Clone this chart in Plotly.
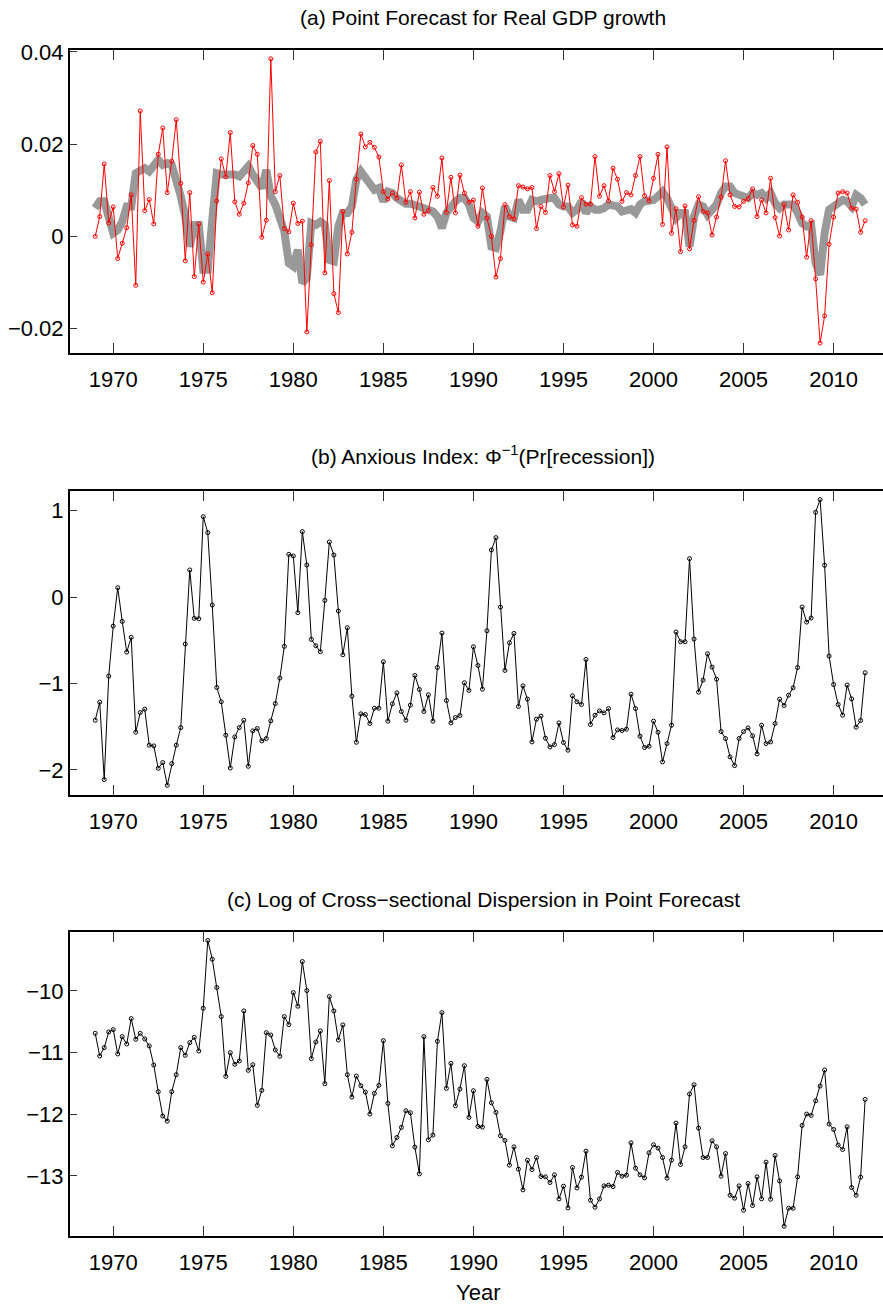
"""
Survey of Professional Forecasters: point forecast, anxious index and dispersion.
"""
import plotly.graph_objects as go
from plotly.subplots import make_subplots

# quarterly observations, 1969Q1 .. 2011Q4 (two years per row)
quarters = [1969 + q / 4 for q in range(172)]

gdp_point_forecast = [
    0.0000, 0.0043, 0.0157, 0.0029, 0.0064, -0.0048, -0.0015, 0.0019,
    0.0090, -0.0106, 0.0272, 0.0056, 0.0080, 0.0027, 0.0178, 0.0235,
    0.0095, 0.0163, 0.0253, 0.0115, -0.0053, 0.0095, -0.0087, 0.0027,
    -0.0099, -0.0038, -0.0122, 0.0077, 0.0168, 0.0129, 0.0225, 0.0075,
    0.0048, 0.0072, 0.0116, 0.0197, 0.0178, -0.0002, 0.0035, 0.0385,
    0.0097, 0.0132, 0.0017, 0.0010, 0.0072, 0.0028, 0.0033, -0.0207,
    -0.0018, 0.0183, 0.0206, -0.0079, 0.0121, -0.0124, -0.0165, 0.0054,
    -0.0038, 0.0009, 0.0124, 0.0222, 0.0194, 0.0204, 0.0193, 0.0172,
    0.0097, 0.0081, 0.0094, 0.0083, 0.0155, 0.0074, 0.0097, 0.0040,
    0.0096, 0.0048, 0.0056, 0.0106, 0.0087, 0.0170, 0.0052, 0.0128,
    0.0051, 0.0133, 0.0094, 0.0074, 0.0079, 0.0022, 0.0105, 0.0040,
    0.0000, -0.0088, -0.0048, 0.0069, 0.0043, 0.0038, 0.0110, 0.0107,
    0.0103, 0.0106, 0.0017, 0.0065, 0.0052, 0.0132, 0.0097, 0.0136,
    0.0064, 0.0111, 0.0025, 0.0022, 0.0084, 0.0070, 0.0070, 0.0173,
    0.0087, 0.0110, 0.0077, 0.0148, 0.0124, 0.0076, 0.0095, 0.0090,
    0.0132, 0.0173, 0.0088, 0.0077, 0.0126, 0.0178, 0.0026, 0.0194,
    0.0007, 0.0060, -0.0033, 0.0066, -0.0027, 0.0035, 0.0086, 0.0054,
    0.0051, 0.0003, 0.0042, 0.0085, 0.0164, 0.0090, 0.0065, 0.0064,
    0.0076, 0.0082, 0.0103, 0.0043, 0.0079, 0.0051, 0.0126, 0.0041,
    0.0001, 0.0069, 0.0014, 0.0090, 0.0074, 0.0042, -0.0045, 0.0034,
    -0.0092, -0.0231, -0.0172, -0.0017, 0.0042, 0.0094, 0.0097, 0.0094,
    0.0061, 0.0059, 0.0009, 0.0034,
]

# thick grey line behind the point forecasts
gdp_actual = [
    0.0061, 0.0076, 0.0076, 0.0043, 0.0007, 0.0014, 0.0032, 0.0065,
    0.0065, 0.0137, 0.0141, 0.0148, 0.0141, 0.0155, 0.0166, 0.0155,
    0.0159, 0.0155, 0.0126, 0.0087, 0.0043, -0.0022, 0.0025, 0.0025,
    -0.0072, -0.0072, 0.0036, 0.0137, 0.0134, 0.0136, 0.0134, 0.0134,
    0.0130, 0.0141, 0.0152, 0.0134, 0.0116, 0.0105, 0.0144, 0.0087,
    0.0069, 0.0043, 0.0011, -0.0058, -0.0065, -0.0029, -0.0101, -0.0090,
    0.0029, 0.0025, 0.0032, 0.0025, -0.0051, -0.0054, 0.0022, 0.0051,
    0.0051, 0.0065, 0.0123, 0.0141, 0.0126, 0.0116, 0.0101, 0.0105,
    0.0076, 0.0097, 0.0094, 0.0083, 0.0076, 0.0071, 0.0071, 0.0066,
    0.0065, 0.0061, 0.0058, 0.0054, 0.0043, 0.0018, 0.0051, 0.0065,
    0.0076, 0.0083, 0.0083, 0.0069, 0.0040, 0.0032, 0.0051, 0.0043,
    -0.0022, -0.0025, 0.0011, 0.0065, 0.0043, 0.0040, 0.0079, 0.0058,
    0.0058, 0.0079, 0.0076, 0.0079, 0.0083, 0.0083, 0.0083, 0.0069,
    0.0065, 0.0065, 0.0051, 0.0058, 0.0076, 0.0051, 0.0065, 0.0058,
    0.0058, 0.0061, 0.0069, 0.0069, 0.0065, 0.0054, 0.0058, 0.0059,
    0.0051, 0.0069, 0.0076, 0.0079, 0.0079, 0.0087, 0.0097, 0.0083,
    0.0058, 0.0040, 0.0051, 0.0051, -0.0022, 0.0043, 0.0069, 0.0065,
    0.0047, 0.0058, 0.0069, 0.0094, 0.0108, 0.0108, 0.0094, 0.0090,
    0.0087, 0.0083, 0.0094, 0.0090, 0.0094, 0.0083, 0.0094, 0.0072,
    0.0061, 0.0069, 0.0069, 0.0069, 0.0051, 0.0029, 0.0022, 0.0025,
    -0.0058, -0.0083, 0.0007, 0.0058, 0.0065, 0.0072, 0.0079, 0.0076,
    0.0065, 0.0090, 0.0083, 0.0069,
]

anxious_index = [
    -1.425, -1.216, -2.112, -0.915, -0.336, 0.108, -0.282, -0.637,
    -0.467, -1.564, -1.336, -1.297, -1.714, -1.722, -1.981, -1.915,
    -2.178, -1.927, -1.714, -1.510, -0.544, 0.313, -0.247, -0.251,
    0.930, 0.745, -0.093, -1.046, -1.212, -1.598, -1.977, -1.618,
    -1.510, -1.425, -1.958, -1.548, -1.521, -1.664, -1.637, -1.432,
    -1.232, -0.938, -0.571, 0.494, 0.475, -0.181, 0.757, 0.371,
    -0.490, -0.564, -0.633, -0.039, 0.637, 0.486, -0.162, -0.668,
    -0.355, -1.147, -1.680, -1.351, -1.359, -1.463, -1.286, -1.286,
    -0.749, -1.436, -1.236, -1.108, -1.324, -1.425, -1.251, -0.907,
    -1.069, -1.324, -1.131, -1.436, -0.815, -0.417, -1.197, -1.456,
    -1.394, -1.371, -0.992, -1.081, -0.575, -0.792, -1.066, -0.390,
    0.544, 0.687, -0.116, -0.849, -0.529, -0.421, -1.266, -1.027,
    -1.181, -1.676, -1.413, -1.378, -1.633, -1.734, -1.707, -1.456,
    -1.683, -1.772, -1.143, -1.212, -1.243, -0.722, -1.475, -1.367,
    -1.317, -1.340, -1.290, -1.625, -1.537, -1.544, -1.529, -1.124,
    -1.290, -1.610, -1.741, -1.726, -1.436, -1.564, -1.907, -1.695,
    -1.483, -0.405, -0.517, -0.517, 0.444, -0.486, -1.100, -0.961,
    -0.656, -0.811, -0.950, -1.556, -1.637, -1.849, -1.950, -1.637,
    -1.556, -1.514, -1.606, -1.815, -1.483, -1.695, -1.676, -1.463,
    -1.181, -1.255, -1.135, -1.050, -0.815, -0.116, -0.290, -0.243,
    0.981, 1.127, 0.367, -0.683, -1.012, -1.243, -1.367, -1.019,
    -1.178, -1.506, -1.429, -0.876,
]

log_dispersion = [
    -10.688, -11.056, -10.920, -10.666, -10.628, -11.023, -10.742, -10.861,
    -10.449, -10.785, -10.688, -10.780, -10.893, -11.202, -11.635, -12.030,
    -12.112, -11.635, -11.359, -10.920, -11.045, -10.839, -10.753, -10.975,
    -10.282, -9.182, -9.486, -9.946, -10.417, -11.386, -11.002, -11.191,
    -11.137, -10.325, -11.289, -11.197, -11.857, -11.613, -10.677, -10.715,
    -10.958, -11.061, -10.417, -10.547, -10.027, -10.249, -9.524, -9.995,
    -11.099, -10.829, -10.650, -11.505, -10.092, -10.325, -10.796, -10.552,
    -11.359, -11.722, -11.381, -11.538, -11.641, -11.998, -11.662, -11.532,
    -10.807, -11.825, -12.512, -12.377, -12.214, -11.944, -11.976, -12.534,
    -12.967, -10.742, -12.415, -12.339, -10.818, -10.352, -11.581, -11.175,
    -11.863, -11.592, -11.213, -12.052, -11.619, -12.198, -12.209, -11.435,
    -11.814, -11.971, -12.350, -12.426, -12.826, -12.529, -12.891, -13.227,
    -12.745, -12.897, -12.702, -13.010, -13.016, -13.108, -12.983, -13.373,
    -13.167, -13.519, -12.864, -13.195, -13.021, -12.599, -13.395, -13.508,
    -13.373, -13.162, -13.151, -13.173, -12.945, -13.005, -12.989, -12.464,
    -12.875, -12.983, -13.032, -12.626, -12.496, -12.550, -12.702, -13.037,
    -12.745, -12.144, -12.815, -12.529, -11.673, -11.522, -12.225, -12.702,
    -12.702, -12.431, -12.529, -13.005, -12.637, -13.314, -13.362, -13.162,
    -13.557, -13.124, -13.481, -13.016, -13.373, -12.777, -13.379, -12.669,
    -13.081, -13.817, -13.525, -13.525, -13.016, -12.182, -11.998, -12.020,
    -11.782, -11.543, -11.283, -12.160, -12.247, -12.501, -12.572, -12.204,
    -13.189, -13.314, -13.021, -11.760,
]

year_ticks = [1970, 1975, 1980, 1985, 1990, 1995, 2000, 2005, 2010]
gdp_ticks = [-0.02, 0, 0.02, 0.04]
gdp_ticktext = ["\u22120.02", "0", "0.02", "0.04"]
anx_ticks = [-2, -1, 0, 1]
anx_ticktext = ["\u22122", "\u22121", "0", "1"]
disp_ticks = [-13, -12, -11, -10]
disp_ticktext = ["\u221213", "\u221212", "\u221211", "\u221210"]

titles = [
    "(a) Point Forecast for Real GDP growth",
    "(b) Anxious Index: \u03a6<sup>\u22121</sup>(Pr[recession])",
    "(c) Log of Cross\u2212sectional Dispersion in Point Forecast",
]

FONT = "Liberation Sans, Arial, sans-serif"
W, H = 883, 1307

fig = make_subplots(rows=3, cols=1)

fig.add_trace(go.Scatter(
    x=quarters, y=gdp_actual, mode="lines",
    line=dict(color="#999999", width=8), showlegend=False,
), row=1, col=1)
fig.add_trace(go.Scatter(
    x=quarters, y=gdp_point_forecast, mode="lines+markers",
    line=dict(color="#ff0000", width=1),
    marker=dict(symbol="circle-open", size=4, color="#ff0000", line=dict(width=1)),
    showlegend=False,
), row=1, col=1)
fig.add_trace(go.Scatter(
    x=quarters, y=anxious_index, mode="lines+markers",
    line=dict(color="black", width=1),
    marker=dict(symbol="circle-open", size=4, color="black", line=dict(width=1)),
    showlegend=False,
), row=2, col=1)
fig.add_trace(go.Scatter(
    x=quarters, y=log_dispersion, mode="lines+markers",
    line=dict(color="black", width=1),
    marker=dict(symbol="circle-open", size=4, color="black", line=dict(width=1)),
    showlegend=False,
), row=3, col=1)

# panel frames in pixels from top: (top, bottom)
frames = [(50, 352.7), (490.7, 795), (932.3, 1235.7)]
x_dom = [70 / W, 1.0]
y_ranges = [[-0.0252, 0.0404], [-2.29, 1.23], [-13.97, -9.05]]
y_ticks = [(gdp_ticks, gdp_ticktext), (anx_ticks, anx_ticktext), (disp_ticks, disp_ticktext)]

for i, (top, bottom) in enumerate(frames, 1):
    fig.update_xaxes(
        domain=x_dom, range=[1967.6, 1967.6 + 813 / 18.01],
        tickvals=year_ticks, ticks="inside", ticklen=10, tickwidth=1, tickcolor="#333",
        showline=True, linecolor="black", linewidth=2, mirror="ticks",
        showgrid=False, zeroline=False, automargin=False, ticklabelstandoff=6,
        tickfont=dict(family=FONT, size=22, color="black"),
        row=i, col=1,
    )
    tv, tt = y_ticks[i - 1]
    fig.update_yaxes(
        domain=[1 - bottom / H, 1 - top / H], range=y_ranges[i - 1],
        tickvals=tv, ticktext=tt, ticks="inside", ticklen=7, tickwidth=1, tickcolor="#333",
        showline=True, linecolor="black", linewidth=2, mirror=False,
        showgrid=False, zeroline=False, automargin=False,
        tickfont=dict(family=FONT, size=22, color="black"),
        row=i, col=1,
    )

title_y = [18, 455, 900]
for text, ty in zip(titles, title_y):
    fig.add_annotation(
        text=text, x=483 / W, y=1 - ty / H, xref="paper", yref="paper",
        showarrow=False, xanchor="center", yanchor="middle",
        font=dict(family=FONT, size=21, color="black"),
    )
fig.add_annotation(
    text="Year", x=478 / W, y=1 - 1292 / H, xref="paper", yref="paper",
    showarrow=False, xanchor="center", yanchor="middle",
    font=dict(family=FONT, size=22, color="black"),
)

fig.update_layout(
    width=W, height=H,
    margin=dict(l=0, r=0, t=0, b=0),
    plot_bgcolor="white", paper_bgcolor="white",
    showlegend=False,
)

# drop the browser's default 8px body margin so the figure sits at the corner
fig.write_html(
    "out.html",
    config={"displayModeBar": False},
    post_script="document.body.style.margin = '0px';",
)
